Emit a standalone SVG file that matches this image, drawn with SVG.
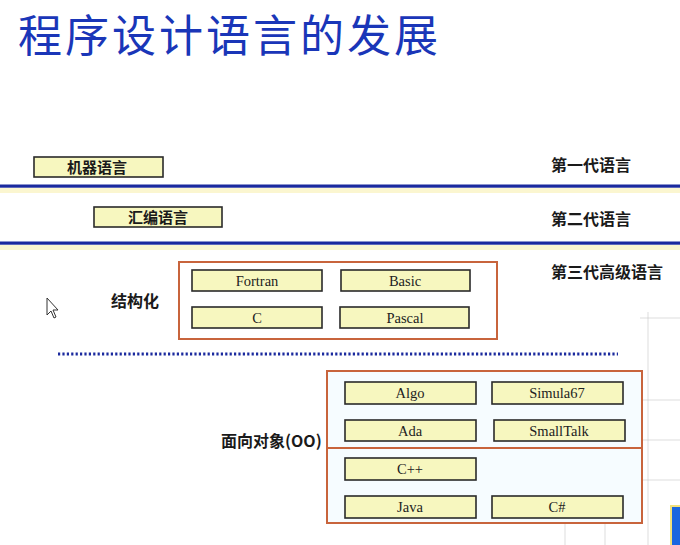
<svg xmlns="http://www.w3.org/2000/svg" width="680" height="545" viewBox="0 0 680 545">
<defs>
<style>
.box{fill:#f7f7bf;stroke:#2a2a2a;stroke-width:1.6}
.lat{font-family:"Liberation Serif","DejaVu Serif",serif;font-size:14.5px;fill:#222;text-anchor:middle;dominant-baseline:central}
.cjk{font-family:"Noto Sans CJK SC","Noto Sans",sans-serif;font-weight:bold;fill:#1a1a1a;dominant-baseline:central}
.gen{font-size:16px}
.grp{fill:#f6fcff;stroke:#c8643c;stroke-width:2}
.grid{stroke:#c8c8c8;stroke-width:1;opacity:0.6}
</style>
</defs>
<rect width="680" height="545" fill="#ffffff"/>
<g id="grid">
<line class="grid" x1="648" y1="312" x2="648" y2="545"/>
<line class="grid" x1="640" y1="318" x2="680" y2="318"/>
<line class="grid" x1="620" y1="400" x2="680" y2="400"/>
<line class="grid" x1="625" y1="440" x2="680" y2="440"/>
<line class="grid" x1="520" y1="480" x2="680" y2="480"/>
<line class="grid" x1="565" y1="470" x2="565" y2="545"/>
<line class="grid" x1="605" y1="405" x2="605" y2="545"/>
</g>
<text x="18" y="52" font-family="Noto Sans CJK SC,sans-serif" font-size="44" letter-spacing="3" fill="#1a36b8">程序设计语言的发展</text>

<g id="separators">
<rect x="0" y="188" width="680" height="5" fill="#fbf6d0"/>
<rect x="0" y="184.5" width="680" height="3.2" fill="#1b2a9e"/>
<rect x="0" y="245" width="680" height="5" fill="#fbf6d0"/>
<rect x="0" y="241.5" width="680" height="3.2" fill="#1b2a9e"/>
<line x1="58" y1="354" x2="618" y2="354" stroke="#1b2a9e" stroke-width="3" stroke-dasharray="2.2 2.2"/>
</g>

<g id="gen1">
<rect class="box" x="34" y="157" width="129" height="20"/>
<text class="cjk" x="97" y="166" font-size="15" text-anchor="middle">机器语言</text>
<text class="cjk gen" x="551" y="164">第一代语言</text>
</g>
<g id="gen2">
<rect class="box" x="94" y="207" width="128" height="20"/>
<text class="cjk" x="158" y="216" font-size="15" text-anchor="middle">汇编语言</text>
<text class="cjk gen" x="551" y="218">第二代语言</text>
</g>
<text class="cjk gen" x="551" y="271">第三代高级语言</text>

<g id="structured">
<text class="cjk" x="111" y="300" font-size="16">结构化</text>
<rect class="grp" x="179" y="262" width="318" height="77" style="fill:#ffffff"/>
<g id="fortran"><rect class="box" x="192" y="270" width="130" height="21"/><text class="lat" x="257" y="280.5">Fortran</text></g>
<g id="basic"><rect class="box" x="341" y="270" width="129" height="21"/><text class="lat" x="405" y="280.5">Basic</text></g>
<g id="c"><rect class="box" x="192" y="307" width="130" height="21"/><text class="lat" x="257" y="317.5">C</text></g>
<g id="pascal"><rect class="box" x="340" y="307" width="129" height="21"/><text class="lat" x="405" y="317.5">Pascal</text></g>
</g>

<path d="M47 298 L47 315 L51 311 L54 318 L56 317 L53 310 L58 310 Z" fill="#ffffff" stroke="#333" stroke-width="1"/>

<g id="oo">
<text class="cjk" x="221" y="440" font-size="16">面向对象(OO)</text>
<rect class="grp" x="327" y="371" width="315" height="152"/>
<line x1="327" y1="448" x2="642" y2="448" stroke="#c8643c" stroke-width="2"/>
<g id="algo"><rect class="box" x="345" y="382" width="131" height="22"/><text class="lat" x="410" y="393">Algo</text></g>
<g id="simula"><rect class="box" x="492" y="382" width="131" height="22"/><text class="lat" x="557" y="393">Simula67</text></g>
<g id="ada"><rect class="box" x="345" y="420" width="131" height="21"/><text class="lat" x="410" y="430.5">Ada</text></g>
<g id="smalltalk"><rect class="box" x="494" y="420" width="131" height="21"/><text class="lat" x="559" y="430.5">SmallTalk</text></g>
<g id="cpp"><rect class="box" x="345" y="458" width="131" height="22"/><text class="lat" x="410" y="469">C++</text></g>
<g id="java"><rect class="box" x="345" y="496" width="131" height="22"/><text class="lat" x="410" y="507">Java</text></g>
<g id="csharp"><rect class="box" x="492" y="496" width="131" height="22"/><text class="lat" x="557" y="507">C#</text></g>
</g>

<rect x="671" y="506" width="12" height="42" fill="#1a66e0" stroke="#f2e07a" stroke-width="2"/>
</svg>
